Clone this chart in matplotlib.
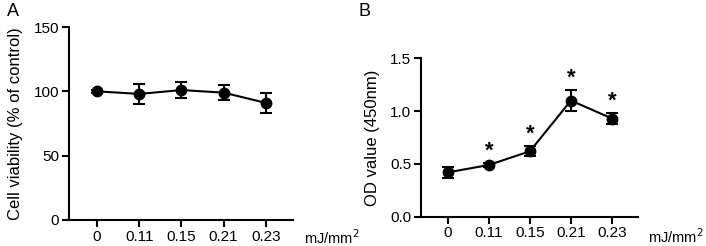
import matplotlib
matplotlib.use("Agg")
import matplotlib.pyplot as plt
import numpy as np

plt.rcParams["font.family"] = ["Liberation Sans", "DejaVu Sans"]

# -----------------------------------------------------
# DONNÉES
# -----------------------------------------------------
doses = ["0", "0.11", "0.15", "0.21", "0.23"]

viabilite = [100, 98, 101, 99, 91]
viabilite_err = [1, 8, 6, 6, 7.5]

od_450 = [0.42, 0.49, 0.62, 1.10, 0.93]
od_450_err = [0.05, 0.02, 0.045, 0.10, 0.055]
signif = [False, True, True, True, True]

x = np.arange(len(doses))

fig = plt.figure(figsize=(7.06, 2.46), dpi=100)
axA = fig.add_axes([0.0977, 0.106, 0.3173, 0.784])
axB = fig.add_axes([0.596, 0.119, 0.308, 0.644])


def style_axe(ax):
    for s in ["top", "right"]:
        ax.spines[s].set_visible(False)
    for s in ["left", "bottom"]:
        ax.spines[s].set_linewidth(1.5)
    ax.tick_params(width=1.5, length=5, labelsize=11, pad=2)
    ax.set_xticks(x)
    ax.set_xticklabels(doses)
    ax.set_xlim(-0.66, 4.64)


def tracer(ax, y, err):
    ax.errorbar(x, y, yerr=err, color="black", marker="o", markersize=7.5,
                linewidth=1.5, elinewidth=1.5, capsize=4.5, capthick=1.5)


# A) Viabilité cellulaire
tracer(axA, viabilite, viabilite_err)
style_axe(axA)
axA.set_ylim(0, 150)
axA.set_yticks([0, 50, 100, 150])
axA.set_ylabel("Cell viability (% of control)", fontsize=12, labelpad=8)
fig.text(304 / 706, 1 - 238 / 246, "mJ/mm$^2$", fontsize=10.5,
         va="center", ha="left")
fig.text(0.010, 0.955, "A", fontsize=13, va="center", ha="left")

# B) Valeur OD
tracer(axB, od_450, od_450_err)
style_axe(axB)
axB.set_ylim(0, 1.5)
axB.set_yticks([0, 0.5, 1.0, 1.5])
axB.set_yticklabels(["0.0", "0.5", "1.0", "1.5"])
axB.set_ylabel("OD value (450nm)", fontsize=12, labelpad=7)
for xi, yi, ei, s in zip(x, od_450, od_450_err, signif):
    if s:
        axB.annotate("*", (xi, yi + ei), xytext=(0, 1), textcoords="offset points",
                     ha="center", va="bottom", fontsize=16, fontweight="bold")
fig.text(648 / 706, 1 - 237 / 246, "mJ/mm$^2$", fontsize=10.5,
         va="center", ha="left")
fig.text(0.508, 0.955, "B", fontsize=13, va="center", ha="left")

fig.savefig("out.png", dpi=100)
